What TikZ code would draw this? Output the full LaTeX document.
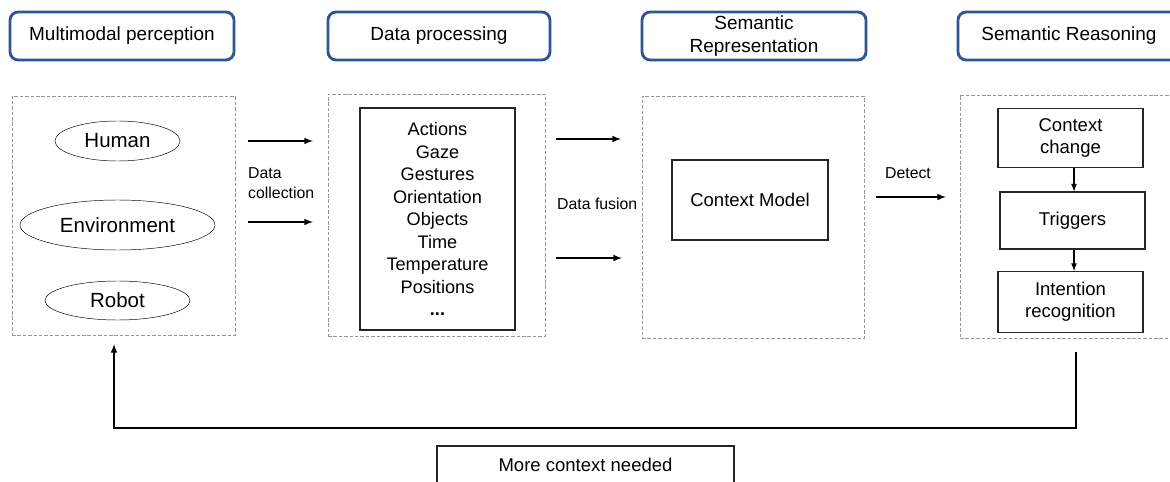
\documentclass[tikz,border=0pt]{standalone}
\usepackage{fontspec}
\setmainfont{Liberation Sans}
\usetikzlibrary{shapes.geometric}
\newcommand\pxu{0.03cm}
\definecolor{hdrblue}{RGB}{47,84,150}
\definecolor{dashgray}{RGB}{150,150,150}
\tikzset{
  hdr/.style={draw=hdrblue, line width=2.4pt, rounded corners=7pt,
    minimum height=48*\pxu, inner sep=0pt, align=center,
    font=\fontsize{16.2}{19.2}\selectfont},
  stage/.style={draw=dashgray, line width=0.8pt, dash pattern=on 3pt off 1.6pt,
    inner sep=0pt},
  src/.style={draw, ellipse, thin, inner sep=0pt,
    font=\fontsize{17.5}{21}\selectfont},
  solidbox/.style={draw=black!85, line width=0.9pt, inner sep=0pt, align=center,
    font=\fontsize{15.8}{19}\selectfont},
  lbl/.style={font=\fontsize{13.5}{16.5}\selectfont, align=left, inner sep=0pt},
  flow/.style={->, >=latex, line width=1.5pt},
}
\begin{document}
\begin{tikzpicture}[x=\pxu, y=-\pxu]
  \useasboundingbox (0,0) rectangle (1170,482);

  % stage titles
  \node[hdr, minimum width=224*\pxu] (hpercep) at (122,36) {Multimodal perception};
  \node[hdr, minimum width=222*\pxu] (hproc) at (439,36) {Data processing};
  \node[hdr, minimum width=224*\pxu] (hrepr) at (754,36) {Semantic\\Representation};
  \node[hdr, minimum width=222*\pxu] (hreason) at (1069,36) {Semantic Reasoning};

  % dashed stages
  \node[stage, minimum width=223*\pxu, minimum height=239*\pxu] (percep) at (123.5,215.5) {};
  \node[stage, minimum width=217*\pxu, minimum height=242*\pxu] (proc) at (436.5,215) {};
  \node[stage, minimum width=222*\pxu, minimum height=242*\pxu] (repr) at (753,217) {};
  \node[stage, minimum width=220*\pxu, minimum height=243*\pxu] (reason) at (1070,216.5) {};

  % perception sources
  \node[src, minimum width=125*\pxu, minimum height=40*\pxu] (human) at (117.5,141) {Human};
  \node[src, minimum width=195*\pxu, minimum height=50*\pxu] (env) at (117.5,225) {Environment};
  \node[src, minimum width=145*\pxu, minimum height=39*\pxu] (robot) at (117.5,300.5) {Robot};

  % data collection
  \coordinate (dc1a) at (248,141); \coordinate (dc1b) at (313,141);
  \coordinate (dc2a) at (248,222); \coordinate (dc2b) at (313,222);
  \draw[flow] (dc1a) -- (dc1b);
  \draw[flow] (dc2a) -- (dc2b);
  \node[lbl, anchor=west] (collect) at (248,183) {Data\\collection};

  % features
  \node[solidbox, minimum width=155*\pxu, minimum height=222*\pxu,
    font=\fontsize{15.5}{19.2}\selectfont] (feat) at (437.5,219)
    {Actions\\Gaze\\Gestures\\Orientation\\Objects\\Time\\Temperature\\Positions\\\textbf{...}};

  % data fusion
  \coordinate (df1a) at (556,139); \coordinate (df1b) at (621,139);
  \coordinate (df2a) at (556,258); \coordinate (df2b) at (622,258);
  \draw[flow] (df1a) -- (df1b);
  \draw[flow] (df2a) -- (df2b);
  \node[lbl, anchor=west] (fusion) at (557,204) {Data fusion};

  \node[solidbox, minimum width=156*\pxu, minimum height=80*\pxu] (ctxmodel) at (750,200) {Context Model};

  % detect
  \coordinate (deta) at (876,197); \coordinate (detb) at (946,197);
  \draw[flow] (deta) -- (detb);
  \node[lbl] (detect) at (908,173) {Detect};

  % reasoning chain
  \node[solidbox, minimum width=145*\pxu, minimum height=59*\pxu] (ctxchg) at (1070.5,138) {Context\\change};
  \node[solidbox, minimum width=145*\pxu, minimum height=57*\pxu] (trig) at (1072.5,220.5) {Triggers};
  \node[solidbox, minimum width=145*\pxu, minimum height=61*\pxu] (intent) at (1070.5,302) {Intention\\recognition};
  \draw[flow, line width=1.2pt] (ctxchg.south -| 1074,0) -- (trig.north -| 1074,0);
  \draw[flow, line width=1.2pt] (trig.south -| 1074,0) -- (intent.north -| 1074,0);

  % feedback loop
  \coordinate (fbstart) at (1076,352);
  \coordinate (fbend) at (114,344);
  \draw[flow] (fbstart) -- ++(0,76) -| (fbend);
  \node[draw=black!85, line width=0.9pt, minimum width=297*\pxu, minimum height=38*\pxu,
    font=\fontsize{15.8}{19}\selectfont] (more) at (585.5,465) {More context needed};
\end{tikzpicture}
\end{document}
